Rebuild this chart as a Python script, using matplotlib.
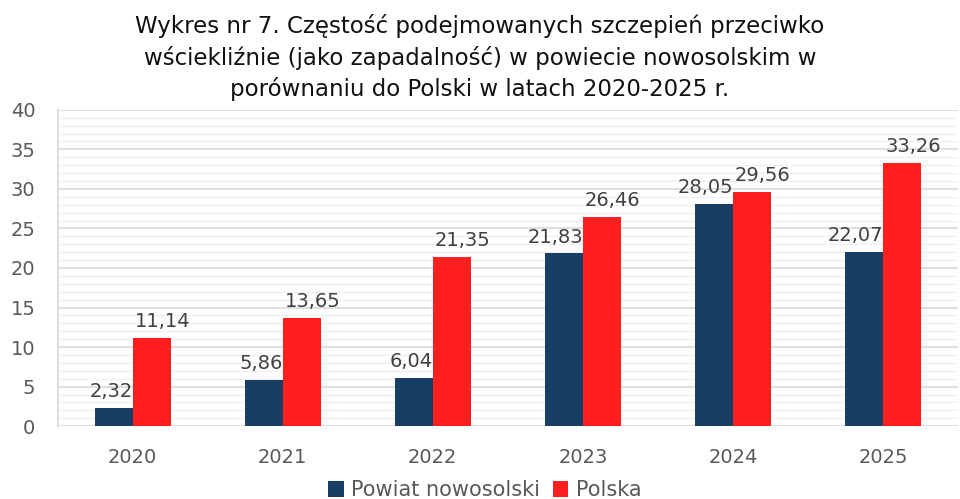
import numpy as np
import matplotlib.pyplot as plt
from matplotlib.ticker import MultipleLocator

lata = ["2020", "2021", "2022", "2023", "2024", "2025"]
powiat = [2.32, 5.86, 6.04, 21.83, 28.05, 22.07]
polska = [11.14, 13.65, 21.35, 26.46, 29.56, 33.26]

plt.rcParams['font.family'] = ['DejaVu Sans']

fig = plt.figure(figsize=(9.6, 4.99), dpi=100)
ax = fig.add_axes([0.060, 0.146, 0.938, 0.634])

x = np.arange(len(lata))
w = 0.253
b1 = ax.bar(x - w / 2, powiat, w, color="#193e66", label="Powiat nowosolski", zorder=3)
b2 = ax.bar(x + w / 2, polska, w, color="#ff1f1f", label="Polska", zorder=3)

# etykiety jak w Excelu: granatowe do prawej krawedzi, czerwone od lewej
for r, v in zip(b1, powiat):
    ax.annotate(f"{v:.2f}".replace(".", ","), (r.get_x() + r.get_width(), v),
                xytext=(0, 5), textcoords="offset points", ha="right", va="bottom",
                fontsize=14, color="#404040", annotation_clip=False)
for r, v in zip(b2, polska):
    ax.annotate(f"{v:.2f}".replace(".", ","), (r.get_x(), v),
                xytext=(1.5, 5), textcoords="offset points", ha="left", va="bottom",
                fontsize=14, color="#404040", annotation_clip=False)

ax.set_xlim(-0.5, len(lata) - 0.5)
ax.set_ylim(0, 40)
ax.yaxis.set_major_locator(MultipleLocator(5))
ax.yaxis.set_minor_locator(MultipleLocator(1))
ax.grid(axis="y", which="major", color="#d9d9d9", linewidth=1.2, zorder=0)
ax.grid(axis="y", which="minor", color="#f0f0f0", linewidth=1.0, zorder=0)
ax.set_xticks(x)
ax.set_xticklabels(lata)
ax.tick_params(axis="both", which="both", length=0, labelsize=14, labelcolor="#595959")
ax.tick_params(axis="x", pad=16)
ax.tick_params(axis="y", pad=16)
for s in ("top", "right", "bottom"):
    ax.spines[s].set_visible(False)
ax.spines["left"].set_color("#d9d9d9")
ax.spines["left"].set_linewidth(1.2)

fig.suptitle("Wykres nr 7. Częstość podejmowanych szczepień przeciwko\n"
             "wściekliźnie (jako zapadalność) w powiecie nowosolskim w\n"
             "porównaniu do Polski w latach 2020-2025 r.",
             y=0.972, fontsize=16.5, color="#111111", linespacing=1.4)

fig.legend(loc="lower center", bbox_to_anchor=(0.505, -0.04), ncol=2, frameon=False,
           fontsize=15, labelcolor="#595959", handlelength=0.75, handleheight=0.75,
           handletextpad=0.35, columnspacing=0.6)

fig.savefig("out.png", dpi=100)
